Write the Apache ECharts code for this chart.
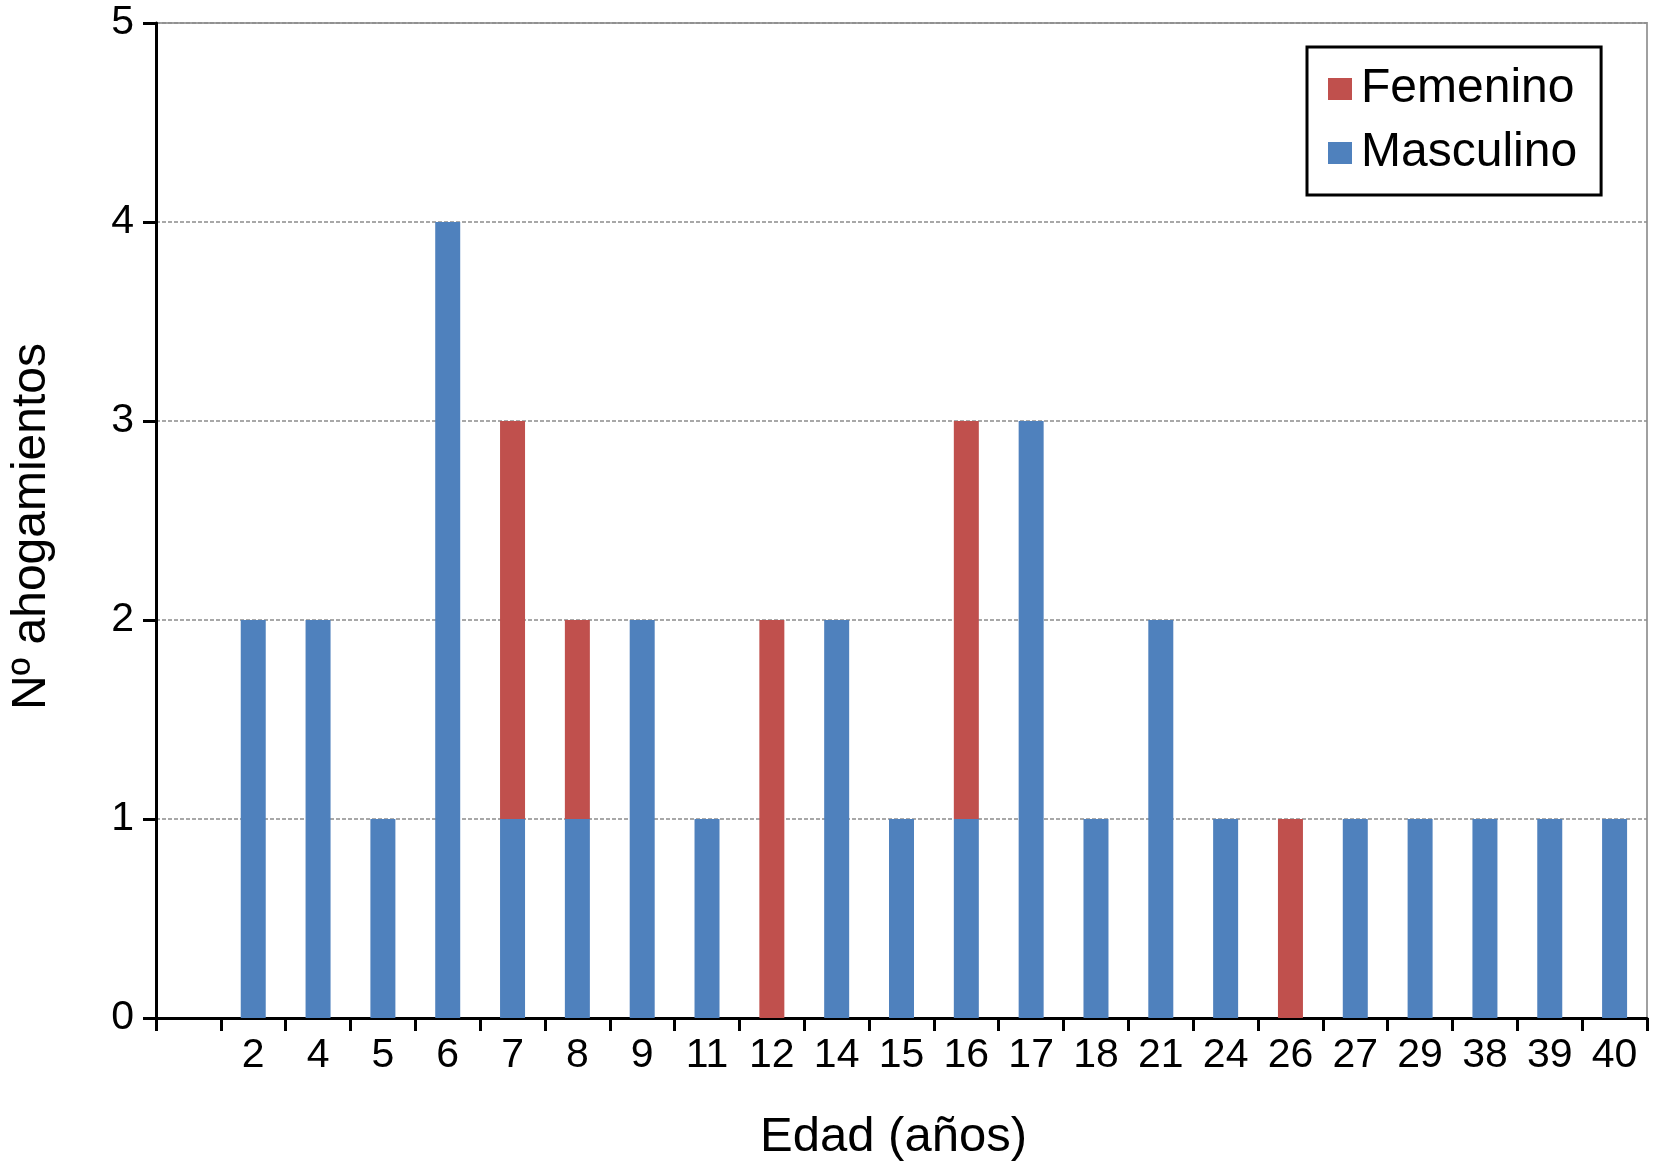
<!DOCTYPE html>
<html>
<head>
<meta charset="utf-8">
<script src="https://cdn.jsdelivr.net/npm/echarts@6/dist/echarts.min.js"></script>
<style>
html,body{margin:0;padding:0;background:#fff;}
#chart{width:1653px;height:1167px;}
</style>
</head>
<body>
<div id="chart"></div>
<script>
const categories = ['', '2', '4', '5', '6', '7', '8', '9', '11', '12', '14', '15', '16', '17', '18', '21', '24', '26', '27', '29', '38', '39', '40'];
const masculino = [null, 2, 2, 1, 4, 1, 1, 2, 1, 0, 2, 1, 1, 3, 1, 2, 1, 0, 1, 1, 1, 1, 1];
const femenino  = [null, 0, 0, 0, 0, 2, 1, 0, 0, 2, 0, 0, 2, 0, 0, 0, 0, 1, 0, 0, 0, 0, 0];
const yTicks = [0, 1, 2, 3, 4, 5];

const FONT = '"Liberation Sans", Arial, Helvetica, sans-serif';
const chart = echarts.init(document.getElementById('chart'));
chart.setOption({
  animation: false,
  backgroundColor: '#fff',
  textStyle: { fontFamily: FONT },
  grid: {
    left: 152, right: 6, top: 23, bottom: 147,
    show: true, borderColor: '#a0a0a0', borderWidth: 2, backgroundColor: 'transparent'
  },
  legend: {
    data: ['Femenino', 'Masculino'],
    orient: 'vertical',
    left: 1307, top: 47,
    padding: [16, 24, 16, 21],
    borderColor: '#000', borderWidth: 3,
    backgroundColor: '#fff',
    itemWidth: 24, itemHeight: 22, itemGap: 12,
    icon: 'rect',
    textStyle: { fontFamily: FONT, fontSize: 48, color: '#000', lineHeight: 52, padding: [0, 0, 0, 4] }
  },
  xAxis: {
    type: 'category',
    data: categories,
    boundaryGap: true,
    name: 'Edad (años)',
    nameLocation: 'middle',
    nameGap: 95,
    nameTextStyle: { fontFamily: FONT, fontSize: 49, color: '#000', padding: [0, 16, 0, 0] },
    axisLine: { lineStyle: { color: '#000', width: 3 } },
    axisTick: { show: true, interval: 0, length: 13, lineStyle: { color: '#000', width: 3 } },
    axisLabel: { interval: 0, fontFamily: FONT, fontSize: 41, color: '#000', margin: 17 }
  },
  yAxis: {
    type: 'value',
    min: yTicks[0], max: yTicks[yTicks.length - 1], interval: 1,
    name: 'Nº ahogamientos',
    nameLocation: 'middle',
    nameRotate: 90,
    nameGap: 100,
    nameTextStyle: { fontFamily: FONT, fontSize: 48, color: '#000', padding: [0, 12, 0, 0] },
    axisLine: { show: true, lineStyle: { color: '#000', width: 3 } },
    axisTick: { show: true, length: 13, lineStyle: { color: '#000', width: 3 } },
    axisLabel: { fontFamily: FONT, fontSize: 41, color: '#000', margin: 22 },
    splitLine: { show: true, lineStyle: { color: '#8c8c8c', width: 1.5, type: [4, 2] } }
  },
  series: [
    {
      name: 'Masculino', type: 'bar', stack: 'total', data: masculino,
      barWidth: 25,
      itemStyle: { color: '#4F81BD' }
    },
    {
      name: 'Femenino', type: 'bar', stack: 'total', data: femenino,
      barWidth: 25,
      itemStyle: { color: '#C0504D' }
    }
  ]
});
</script>
</body>
</html>
